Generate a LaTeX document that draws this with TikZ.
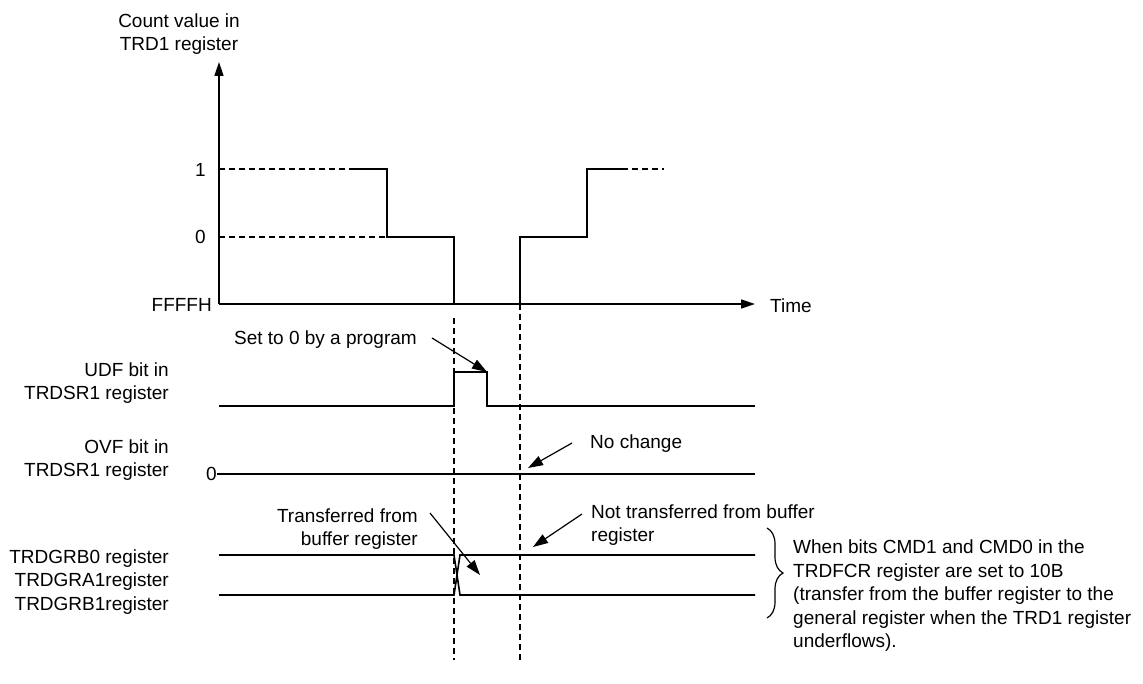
\documentclass[tikz,border=0pt]{standalone}
\usepackage{fontspec}
\setmainfont{Liberation Sans}
\usetikzlibrary{arrows.meta,decorations.pathreplacing}

\begin{document}
\begin{tikzpicture}[x=1pt,y=-1pt,
    wave/.style={line width=1.6pt},
    guide/.style={line width=2pt,dash pattern=on 6pt off 4pt},
    axis/.style={line width=1.6pt,-{Triangle[length=14pt,width=9pt]}},
    note/.style={line width=1.2pt,-{Triangle[length=15pt,width=10pt]}},
    lbl/.style={inner sep=0pt,font=\fontsize{19}{23.5}\selectfont}]
  \useasboundingbox (0,0) rectangle (1143,684);

  % axes
  \coordinate (O) at (219,304);
  \coordinate (ytop) at (219,62);
  \coordinate (xend) at (755,304);
  \draw[axis] (O) -- (ytop);
  \draw[axis] (O) -- (xend);

  \node[lbl,align=center] (cnt) at (179,34) {Count value in\\TRD1 register};
  \node[lbl,anchor=east] (one) at (206,170) {1};
  \node[lbl,anchor=east] (zero) at (206,237) {0};
  \node[lbl,anchor=east] (ffff) at (212,305) {FFFFH};
  \node[lbl,anchor=west] (time) at (770,306) {Time};

  % counter
  \draw[guide] (219,169) -- (355,169);
  \draw[guide] (219,237) -- (387,237);
  \draw[wave] (355,169) -- (387,169) -- (387,237) -- (454,237) -- (454,304)
    -- (520,304) -- (520,237) -- (587,237) -- (587,169) -- (622,169);
  \draw[guide] (622,169) -- (664,169);

  % underflow moments
  \draw[guide] (454,318) -- (454,660);
  \draw[guide] (520,304) -- (520,660);

  % UDF
  \node[lbl,anchor=east,align=right] (udf) at (169,383) {UDF bit in\\TRDSR1 register};
  \draw[wave] (219,406) -- (454,406) -- (454,372) -- (487,372) -- (487,406) -- (755,406);
  \node[lbl,anchor=base east] (setzero) at (417,345) {Set to 0 by a program};
  \coordinate (setA) at (432,338);
  \coordinate (setB) at (487,372);
  \draw[note] (setA) -- (setB);

  % OVF
  \node[lbl,anchor=east,align=right] (ovf) at (169,460) {OVF bit in\\TRDSR1 register};
  \node[lbl,anchor=east] (ovfzero) at (217,474) {0};
  \draw[wave] (ovfzero.east) -- (755,474);
  \node[lbl,anchor=base west] (nochg) at (590,448) {No change};
  \coordinate (chgA) at (572,443);
  \coordinate (chgB) at (528,468);
  \draw[note] (chgA) -- (chgB);

  % general registers
  \node[lbl,anchor=east,align=right] (grb) at (169,582)
    {TRDGRB0 register\\TRDGRA1register\\TRDGRB1register};
  \draw[wave] (219,555) -- (454,555) -- (460,595) -- (755,595);
  \draw[wave] (219,595) -- (454,595) -- (460,555) -- (755,555);
  \node[lbl,anchor=east,align=right] (xfer) at (418,529) {Transferred from\\buffer register};
  \coordinate (xferA) at (430,513);
  \coordinate (xferB) at (480,575);
  \draw[note] (xferA) -- (xferB);
  \node[lbl,anchor=west,align=left] (noxfer) at (591,525) {Not transferred from buffer\\register};
  \coordinate (noxA) at (582,514);
  \coordinate (noxB) at (533,547);
  \draw[note] (noxA) -- (noxB);

  % brace and remark
  \draw[line width=1.2pt,decorate,decoration={brace,amplitude=16pt}] (767,528) -- (767,618);
  \node[lbl,anchor=west,align=left] (remark) at (793,596)
    {When bits CMD1 and CMD0 in the\\TRDFCR register are set to 10B\\(transfer from the buffer register to the\\general register when the TRD1 register\\underflows).};
\end{tikzpicture}
\end{document}
